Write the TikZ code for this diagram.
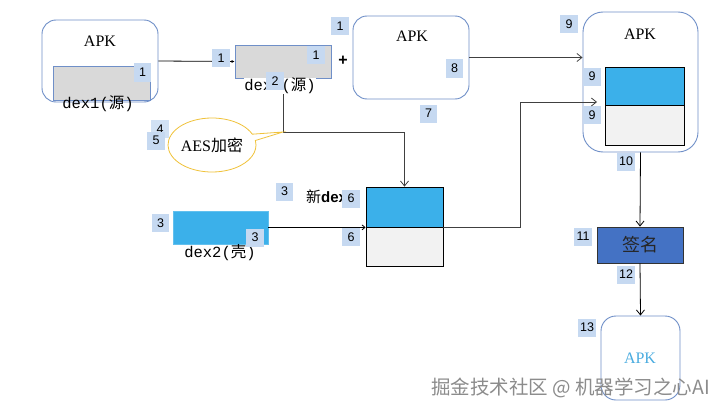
\documentclass[tikz,border=0pt]{standalone}
\usepackage{fontspec}
\setmainfont{Liberation Serif}
\setsansfont{Liberation Sans}
\setmonofont{Liberation Mono}
\newfontfamily\cjk{Noto Sans CJK SC}
\usetikzlibrary{arrows.meta,shapes.callouts,shapes.geometric}
\definecolor{frameblue}{HTML}{6F8FC8}
\definecolor{lblfill}{HTML}{C6D9F1}
\definecolor{skyfill}{HTML}{3BB0EA}
\definecolor{grayfill}{HTML}{D9D9D9}
\definecolor{lightfill}{HTML}{F2F2F2}
\definecolor{signfill}{HTML}{4472C4}
\definecolor{gold}{HTML}{F0C23A}
\definecolor{apkblue}{HTML}{4AACE0}
\definecolor{wmgray}{HTML}{8C8C8C}
\definecolor{linegray}{HTML}{404040}
\tikzset{
  apkbox/.style={draw=frameblue, line width=0.9pt, rounded corners=#1, inner sep=0pt, fill=white},
  lbl/.style={fill=lblfill, inner sep=0pt, minimum width=17.5pt, minimum height=18pt, font=\sffamily\fontsize{12.5}{12.5}\selectfont},
  apktext/.style={font=\fontsize{16}{16}\selectfont, inner sep=0pt},
  dextext/.style={font=\ttfamily\fontsize{15.5}{15.5}\selectfont, inner sep=0pt},
  conn/.style={line width=0.8pt, color=linegray},
  barb/.style={-{Straight Barb[length=5pt,width=8pt]}},
  plain/.style={draw=black, line width=0.8pt, inner sep=0pt}
}
\begin{document}
\begin{tikzpicture}[x=1pt,y=-1pt]
\useasboundingbox (0,0) rectangle (725,412);
\fill[white] (0,0) rectangle (725,412);

% ---------- APK 1 ----------
\node[apkbox=14pt, minimum width=116pt, minimum height=82pt] (apk1) at (100,61) {};
\node[apktext] (apk1t) at (100,41) {APK};
\node[draw=frameblue, fill=grayfill, line width=0.8pt, minimum width=97pt, minimum height=34pt, inner sep=0pt] (gray1) at (101.5,83) {};
\node[lbl] (l1a) at (142.5,72.5) {1};
\node[dextext] (dex1t) at (98,104) {dex1({\cjk 源})};

% ---------- dex1 copy ----------
\node[draw=frameblue, fill=grayfill, line width=0.8pt, minimum width=96pt, minimum height=33pt, inner sep=0pt] (rect2) at (283,61.5) {};
\draw[line width=0.8pt, -{Latex[length=3pt,width=3pt]}] (apk1.east) -- (rect2.west);
\node[lbl] (l1b) at (221,58) {1};
\node[lbl] (l1c) at (316,55) {1};

% ---------- new dex box ----------
\node[plain, fill=skyfill, minimum width=77pt, minimum height=40pt] (ndtop) at (404.5,207) {};
\node[plain, fill=lightfill, minimum width=77pt, minimum height=39pt] (ndbot) at (404.5,246.5) {};

% encryption connector
\coordinate (bend) at (283,132);
\draw[conn, barb] (rect2.south) -- (bend) -| (ndtop.north);
\node[dextext, fill=white] (dex1t2) at (280,86) {dex1({\cjk 源})};
\node[lbl] (l2) at (275,81) {2};

% AES callout
\node[ellipse callout, draw=gold, line width=0.8pt, fill=white, minimum width=77pt, minimum height=54pt, inner sep=0pt,
      callout absolute pointer={(bend)}, callout pointer arc=14,
      font=\fontsize{16}{16}\selectfont] (aes) at (212,145) {AES{\cjk 加密}};
\node[lbl, fill=lblfill!80] (l4) at (160,129) {4};
\node[lbl] (l5) at (156,140.5) {5};

% ---------- "+" and APK 2 ----------
\node[font=\sffamily\bfseries\fontsize{16}{16}\selectfont, inner sep=0pt] (plus) at (343,61) {+};
\node[lbl] (l1d) at (340,26.5) {1};
\node[apkbox=14pt, minimum width=116pt, minimum height=83pt] (apk2) at (411,57.5) {};
\node[apktext] (apk2t) at (412,36) {APK};
\node[lbl] (l8) at (454.5,68.5) {8};
\node[lbl] (l7) at (428.5,113.5) {7};

% ---------- APK 3 ----------
\node[apkbox=20pt, minimum width=115pt, minimum height=140pt] (apk3) at (640.5,82) {};
\node[apktext] (apk3t) at (640,34) {APK};
\node[plain, fill=skyfill, minimum width=79pt, minimum height=38pt] (intop) at (644.5,86) {};
\node[plain, fill=lightfill, minimum width=79pt, minimum height=40pt] (inbot) at (644.5,125) {};
\node[lbl] (l9a) at (569,24) {9};
\node[lbl] (l9b) at (592,76.5) {9};
\node[lbl] (l9c) at (592,115) {9};
\draw[conn, barb] (apk2.east) -- (apk2.east -| apk3.west);

% ---------- dex2 ----------
\node[fill=skyfill, draw=skyfill!80!white, minimum width=95pt, minimum height=33pt, inner sep=0pt] (dex2) at (220.5,227.5) {};
\node[dextext] (dex2t) at (220,253) {dex2({\cjk 壳})};
\node[lbl] (l3b) at (160.5,223) {3};
\node[lbl] (l3c) at (255,237.5) {3};
\draw[line width=0.8pt, -{Straight Barb[length=3pt,width=5pt]}] (dex2.east) -- (ndtop.south west);

% label for new dex
\node[lbl] (l3a) at (284.5,191.5) {3};
\node[anchor=west, inner sep=0pt, font=\fontsize{15}{15}\selectfont] (newdex) at (306,197) {{\cjk 新}\sffamily\bfseries dex};
\node[lbl] (l6a) at (351,198.5) {6};
\node[lbl] (l6b) at (351,237) {6};

% new dex -> APK 3
\coordinate (turn) at (520,102);
\coordinate (tip) at (597,102);
\draw[conn, barb] (ndtop.south east) -| (turn) -- (tip);

% ---------- signing ----------
\node[draw=black!80, fill=signfill, line width=0.8pt, minimum width=86pt, minimum height=36pt, inner sep=0pt,
      font=\cjk\fontsize{18}{18}\selectfont, text=black!85] (sign) at (640,245) {签名};
\node[lbl] (l10) at (626,161.5) {10};
\node[lbl] (l11) at (583,236.5) {11};
\node[lbl] (l12) at (626,274.5) {12};
\draw[line width=0.8pt, barb] (apk3.south) -- (sign.north);

% ---------- APK 4 ----------
\node[apkbox=15pt, minimum width=79pt, minimum height=84pt] (apk4) at (640.5,358) {};
\node[apktext, text=apkblue] (apk4t) at (640,358) {APK};
\node[lbl] (l13) at (587,327.5) {13};
\draw[line width=0.8pt, barb] (sign.south) -- (apk4.north);

% ---------- watermark ----------
\node[anchor=west, inner sep=0pt, text=wmgray, font=\cjk\fontsize{19.5}{19.5}\selectfont] (wm) at (431,388) {掘金技术社区 @ 机器学习之心AI};
\end{tikzpicture}
\end{document}
